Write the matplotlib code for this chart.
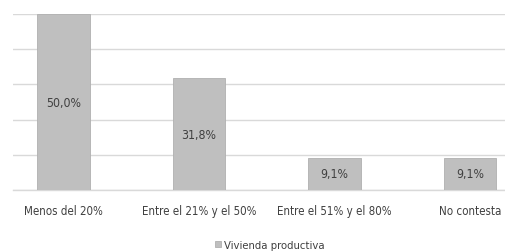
import matplotlib
matplotlib.use("Agg")
import matplotlib.pyplot as plt
from matplotlib import font_manager

categories = ["Menos del 20%", "Entre el 21% y el 50%", "Entre el 51% y el 80%", "No contesta"]
values = [50.0, 31.8, 9.1, 9.1]
labels = ["50,0%", "31,8%", "9,1%", "9,1%"]
series_name = "Vivienda productiva"

# narrow face if one is around, otherwise plain Liberation Sans
condensed = [f for f in font_manager.fontManager.ttflist
             if f.name == "DejaVu Sans" and f.stretch == "condensed" and f.weight == 400
             and f.style == "normal"]


def font(size):
    if condensed:
        return font_manager.FontProperties(fname=condensed[0].fname, size=size)
    return font_manager.FontProperties(family="Liberation Sans", size=size * 0.95)


fig = plt.figure(figsize=(5.06, 2.53), dpi=100)
ax = fig.add_axes([13 / 506, (253 - 191) / 253, 493 / 506, 176 / 253])

x = list(range(len(categories)))
bars = ax.bar(x, values, width=0.39, color="#BFBFBF", edgecolor="#B0B0B0",
              linewidth=0.6, zorder=3, label=series_name)
for b, v, t in zip(bars, values, labels):
    ax.text(b.get_x() + b.get_width() / 2, v / 2, t, ha="center", va="center",
            color="#404040", zorder=4, fontproperties=font(8.8))

ax.set_xlim(-0.373, 3.266)
ax.set_ylim(0, 50)
ax.set_yticks([0, 10, 20, 30, 40, 50])
ax.set_yticklabels([])
ax.tick_params(axis="y", length=0)
ax.grid(axis="y", color="#D9D9D9", linewidth=1.0, zorder=0)
ax.set_xticks(x)
ax.set_xticklabels(categories, color="#404040", fontproperties=font(8.3))
ax.tick_params(axis="x", length=0, pad=10)
for s in ["top", "right", "left"]:
    ax.spines[s].set_visible(False)
ax.spines["bottom"].set_color("#D9D9D9")
ax.spines["bottom"].set_linewidth(1.0)

fig.legend(handles=[bars], labels=[series_name], loc="center",
           bbox_to_anchor=(270 / 506, 1 - 246 / 253), frameon=False,
           handlelength=0.5, handleheight=0.5, handletextpad=0.3,
           labelcolor="#404040", prop=font(8.1))

fig.savefig("out.png", dpi=100, facecolor="white")
